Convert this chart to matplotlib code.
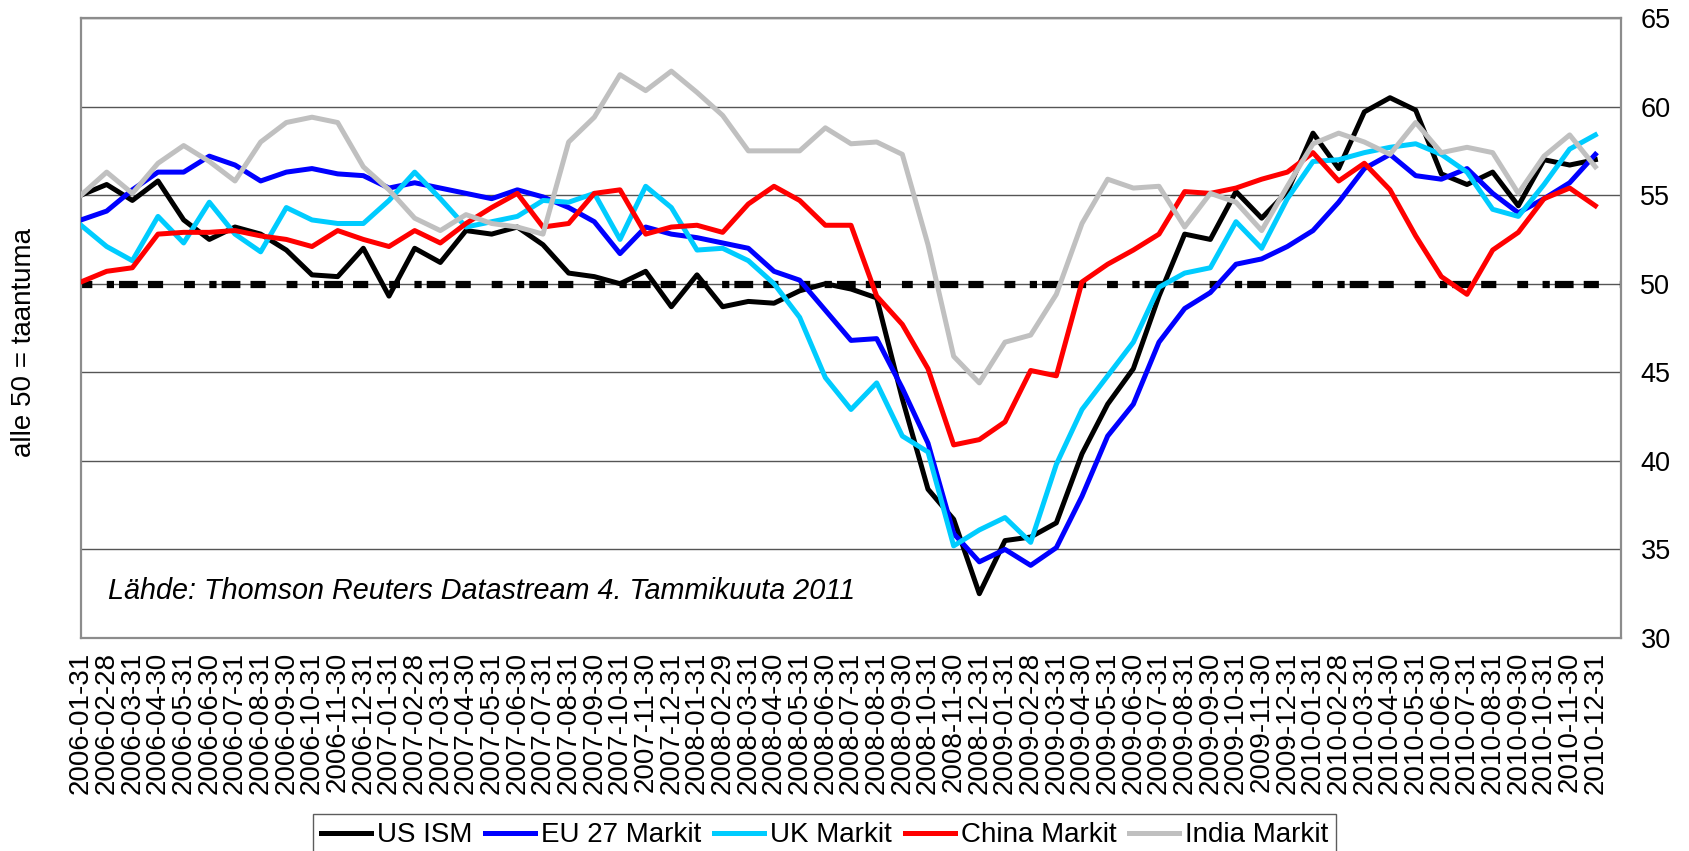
import numpy as np
import pandas as pd
import matplotlib
matplotlib.use('Agg')
import matplotlib.pyplot as plt

plt.rcParams['font.family'] = ['Liberation Sans', 'DejaVu Sans']

# month-end dates, Jan 2006 .. Dec 2010
dates = pd.date_range('2006-01-31', periods=60, freq=pd.offsets.MonthEnd()).strftime('%Y-%m-%d')

us_ism = [55.0, 55.6, 54.7, 55.8, 53.6, 52.5, 53.2, 52.8, 51.9, 50.5,
          50.4, 52.0, 49.3, 52.0, 51.2, 53.0, 52.8, 53.2, 52.2, 50.6,
          50.4, 50.0, 50.7, 48.7, 50.5, 48.7, 49.0, 48.9, 49.6, 50.0,
          49.7, 49.2, 43.5, 38.4, 36.7, 32.5, 35.5, 35.7, 36.5, 40.4,
          43.2, 45.2, 49.3, 52.8, 52.5, 55.2, 53.7, 55.2, 58.5, 56.5,
          59.7, 60.5, 59.8, 56.2, 55.6, 56.3, 54.4, 57.0, 56.7, 57.0]

eu27 = [53.6, 54.1, 55.3, 56.3, 56.3, 57.2, 56.7, 55.8, 56.3, 56.5,
        56.2, 56.1, 55.4, 55.7, 55.4, 55.1, 54.8, 55.3, 54.9, 54.3,
        53.5, 51.7, 53.2, 52.8, 52.6, 52.3, 52.0, 50.7, 50.2, 48.5,
        46.8, 46.9, 44.1, 41.0, 35.9, 34.3, 35.0, 34.1, 35.1, 38.0,
        41.4, 43.2, 46.7, 48.6, 49.5, 51.1, 51.4, 52.1, 53.0, 54.6,
        56.5, 57.3, 56.1, 55.9, 56.5, 55.1, 54.0, 54.8, 55.7, 57.3]

uk = [53.3, 52.1, 51.3, 53.8, 52.3, 54.6, 52.8, 51.8, 54.3, 53.6,
      53.4, 53.4, 54.7, 56.3, 54.8, 53.2, 53.5, 53.8, 54.7, 54.6,
      55.1, 52.5, 55.5, 54.3, 51.9, 52.0, 51.3, 50.0, 48.1, 44.7,
      42.9, 44.4, 41.4, 40.5, 35.2, 36.1, 36.8, 35.4, 39.8, 42.9,
      44.8, 46.7, 49.8, 50.6, 50.9, 53.5, 52.0, 54.8, 56.9, 57.0,
      57.4, 57.7, 57.9, 57.3, 56.3, 54.2, 53.8, 55.6, 57.6, 58.4]

china = [50.1, 50.7, 50.9, 52.8, 52.9, 52.9, 53.0, 52.7, 52.5, 52.1,
         53.0, 52.5, 52.1, 53.0, 52.3, 53.4, 54.3, 55.1, 53.2, 53.4,
         55.1, 55.3, 52.8, 53.2, 53.3, 52.9, 54.5, 55.5, 54.7, 53.3,
         53.3, 49.3, 47.7, 45.2, 40.9, 41.2, 42.2, 45.1, 44.8, 50.1,
         51.1, 51.9, 52.8, 55.2, 55.1, 55.4, 55.9, 56.3, 57.4, 55.8,
         56.8, 55.3, 52.7, 50.4, 49.4, 51.9, 52.9, 54.8, 55.4, 54.4]

india = [55.0, 56.3, 55.1, 56.8, 57.8, 56.9, 55.8, 58.0, 59.1, 59.4,
         59.1, 56.6, 55.3, 53.7, 53.0, 53.9, 53.4, 53.2, 52.8, 58.0,
         59.4, 61.8, 60.9, 62.0, 60.8, 59.5, 57.5, 57.5, 57.5, 58.8,
         57.9, 58.0, 57.3, 52.2, 45.9, 44.4, 46.7, 47.1, 49.4, 53.4,
         55.9, 55.4, 55.5, 53.2, 55.1, 54.6, 53.0, 55.5, 57.9, 58.5,
         58.0, 57.3, 59.1, 57.4, 57.7, 57.4, 55.1, 57.2, 58.4, 56.6]

names = ['US ISM', 'EU 27 Markit', 'UK Markit', 'China Markit', 'India Markit']
colors = ['#000000', '#0000FF', '#00CCFF', '#FF0000', '#C0C0C0']

fig = plt.figure(figsize=(16.9, 8.51), dpi=100)
ax = fig.add_axes([81 / 1690, 1 - 638 / 851, 1540 / 1690, 620 / 851])

x = np.arange(len(dates))

# recession threshold line
ax.axhline(50, color='black', lw=5.2, dashes=[1.5, 2.0, 1.0, 0.7, 2.6, 1.4, 2.1, 2.9], zorder=2)

for name, vals, col in zip(names, [us_ism, eu27, uk, china, india], colors):
    ax.plot(x, vals, color=col, lw=3.6, label=name, zorder=3)

ax.set_xlim(0, 60)
ax.set_ylim(30, 65)
ax.set_yticks(range(30, 66, 5))
ax.yaxis.tick_right()
ax.tick_params(axis='y', length=0, pad=14, labelsize=19.5)
ax.set_xticks(x)
ax.set_xticklabels(dates, rotation=90, fontsize=20)
ax.tick_params(axis='x', length=0, pad=10)
ax.grid(axis='y', color='#555555', lw=1, zorder=1)
for s in ax.spines.values():
    s.set_color('#8c8c8c')
    s.set_linewidth(1.6)

ax.text(1.05, 32.2, 'Lähde: Thomson Reuters Datastream 4. Tammikuuta 2011',
        style='italic', fontsize=20.7, va='baseline')

fig.text(24 / 1690, 1 - 343 / 851, 'alle 50 = taantuma', rotation=90,
         fontsize=20, ha='center', va='center')

leg = fig.legend(loc='upper left', bbox_to_anchor=(313 / 1690, 1 - 814 / 851), ncol=5,
                 fontsize=20, frameon=True, fancybox=False, edgecolor='#333333',
                 handlelength=1.8, handletextpad=0.22, columnspacing=0.45,
                 borderpad=0.3, borderaxespad=0)
leg.get_frame().set_linewidth(1.0)

fig.savefig('out.png', dpi=100)
